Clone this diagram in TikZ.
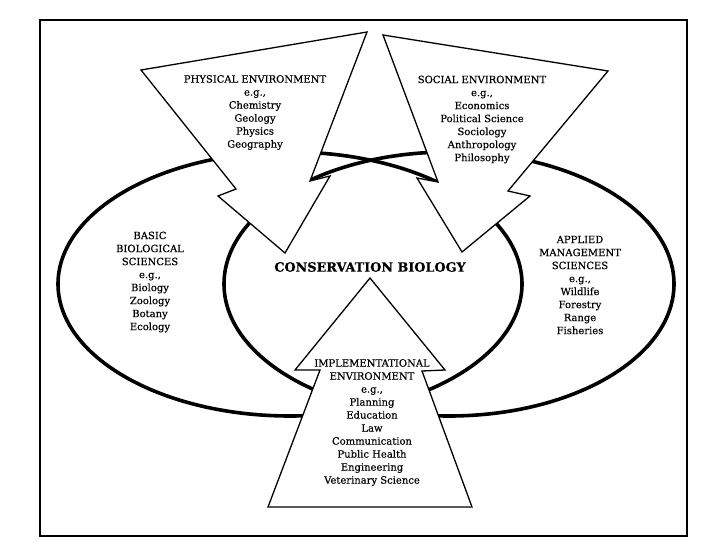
\documentclass[tikz,border=0pt]{standalone}
\usepackage{fontspec}
\setmainfont{DejaVu Serif}[FakeBold=0.35]
\begin{document}
\begin{tikzpicture}[x=1pt,y=-1pt,
  ring/.style={line width=3.6pt},
  arrowshape/.style={fill=white,draw=black,line width=1.3pt,line join=miter},
  lbl/.style={align=center,font=\fontsize{10}{13}\selectfont,inner sep=0pt},
  outerframe/.style={line width=2.5pt}]
\useasboundingbox (0,0) rectangle (720,540);
\draw[outerframe] (40,20) rectangle (687,536);
% two overlapping ellipses
\draw[ring] (290,284) ellipse [x radius=232pt, y radius=132pt];
\draw[ring] (449,284) ellipse [x radius=225pt, y radius=132pt];
% physical environment arrow
\draw[arrowshape] (141,70) -- (367,32) -- (310,181) -- (330,176) -- (285,253) -- (218,196) -- (236,189) -- cycle;
% social environment arrow
\draw[arrowshape] (383,35) -- (608,71) -- (508,191) -- (530,196) -- (462,252) -- (417,178) -- (438,182) -- cycle;
% implementational environment arrow
\draw[arrowshape] (370,278) -- (445,370) -- (422,371) -- (472,507) -- (268,507) -- (320,370) -- (295,370) -- cycle;
% labels
\node[lbl] (phys) at (255,112.5) {PHYSICAL ENVIRONMENT\\e.g.,\\Chemistry\\Geology\\Physics\\Geography};
\node[lbl] (soc) at (482,119.5) {SOCIAL ENVIRONMENT\\e.g.,\\Economics\\Political Science\\Sociology\\Anthropology\\Philosophy};
\node[lbl] (impl) at (372,422.5) {IMPLEMENTATIONAL\\ENVIRONMENT\\e.g.,\\Planning\\Education\\Law\\Communication\\Public Health\\Engineering\\Veterinary Science};
\node[lbl] (basic) at (150,282) {BASIC\\BIOLOGICAL\\SCIENCES\\e.g.,\\Biology\\Zoology\\Botany\\Ecology};
\node[lbl] (appl) at (580,285) {APPLIED\\MANAGEMENT\\SCIENCES\\e.g.,\\Wildlife\\Forestry\\Range\\Fisheries};
\node[inner sep=0pt,font=\fontsize{12.8}{15}\selectfont\bfseries] (cons) at (370,267) {CONSERVATION BIOLOGY};
\end{tikzpicture}
\end{document}
